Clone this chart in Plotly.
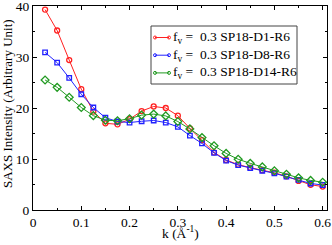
import plotly.graph_objects as go

k = [0.025, 0.05, 0.075, 0.1, 0.125, 0.15, 0.175, 0.2, 0.225, 0.25, 0.275, 0.3,
     0.325, 0.35, 0.375, 0.4, 0.425, 0.45, 0.475, 0.5, 0.525, 0.55, 0.575, 0.6]
d1 = [39.3, 35.2, 29.4, 23.7, 19.3, 17.0, 16.8, 17.8, 19.4, 20.3, 20.0, 18.5,
      16.0, 13.7, 11.3, 9.8, 8.9, 8.3, 7.8, 7.3, 6.6, 5.7, 4.95, 4.6]
d8 = [30.9, 28.9, 25.9, 22.7, 20.1, 18.1, 17.35, 17.15, 17.4, 17.55, 17.15, 16.3,
      14.6, 13.05, 11.2, 9.7, 8.8, 8.2, 7.7, 7.2, 6.55, 5.9, 5.2, 4.9]
d14 = [25.5, 24.05, 22.1, 20.1, 18.5, 17.6, 17.5, 17.9, 18.6, 18.8, 18.45, 17.35,
       15.9, 14.2, 12.6, 11.1, 9.95, 9.15, 8.45, 7.7, 7.0, 6.3, 5.8, 5.45]
names = ["f<sub>v</sub> =  0.3 SP18-D1-R6",
         "f<sub>v</sub> =  0.3 SP18-D8-R6",
         "f<sub>v</sub> =  0.3 SP18-D14-R6"]
colors = ["#ff2020", "#2020ff", "#209a20"]
symbols = ["circle-open", "square-open", "diamond-open"]
sizes = [5, 4.5, 6]
xticks = [0, 0.1, 0.2, 0.3, 0.4, 0.5, 0.6]
xticklabels = ["0", "0.1", "0.2", "0.3", "0.4", "0.5", "0.6"]
yticks = [0, 10, 20, 30, 40]
yticklabels = ["0", "10", "20", "30", "40"]

W, H = 332, 245
L, R, T, B = 33, 5, 6, 35
pw, ph = W - L - R, H - T - B


def px(x):
    return (x - L) / pw


def py(y):
    return (H - B - y) / ph


font = "Liberation Serif, Times New Roman, serif"

fig = go.Figure()
for y, n, c, s, sz in zip([d1, d8, d14], names, colors, symbols, sizes):
    fig.add_trace(go.Scatter(
        x=k, y=y, name=n, mode="lines+markers", showlegend=False,
        line=dict(color=c, width=1),
        marker=dict(symbol=s, size=sz, color=c, line=dict(color=c, width=1.3)),
    ))

# legend box with short line samples
shapes = [dict(type="rect", xref="paper", yref="paper",
               x0=px(151), x1=px(297), y0=py(84), y1=py(26),
               line=dict(color="#444444", width=1), fillcolor="white", layer="above")]
annotations = []
for i, (n, c) in enumerate(zip(names, colors)):
    yy = 37.5 + i * 17.7
    shapes.append(dict(type="line", xref="paper", yref="paper",
                       x0=px(155), x1=px(169), y0=py(yy), y1=py(yy),
                       line=dict(color=c, width=1), layer="above"))
    for xx in (155, 169):
        shapes.append(dict(type="circle", xref="paper", yref="paper",
                           x0=px(xx - 1.5), x1=px(xx + 1.5),
                           y0=py(yy + 1.5), y1=py(yy - 1.5),
                           line=dict(color=c, width=1), layer="above"))
    annotations.append(dict(text=n, xref="paper", yref="paper",
                            x=px(171), y=py(yy), xanchor="left", yanchor="middle",
                            showarrow=False,
                            font=dict(family=font, size=13.5, color="black")))

annotations.append(dict(text="k (Å<sup>-1</sup>)", xref="paper", yref="paper",
                        x=0.5, y=py(232), xanchor="center", yanchor="middle",
                        showarrow=False, font=dict(family=font, size=13.5, color="black")))
annotations.append(dict(text="SAXS Intensity (Arbitrary Unit)", xref="paper", yref="paper",
                        x=px(8), y=py(104), xanchor="center", yanchor="middle",
                        textangle=-90, showarrow=False,
                        font=dict(family=font, size=13, color="black")))

axis_common = dict(
    showline=True, linecolor="black", linewidth=1, mirror="allticks",
    ticks="inside", ticklen=4, tickcolor="black", showgrid=False, zeroline=False,
    automargin=False, ticklabeloverflow="allow",
    tickfont=dict(family=font, size=13.5, color="black"),
)
fig.update_xaxes(range=[0, 0.609], tickvals=xticks, ticktext=xticklabels,
                 minor=dict(tickvals=[0.05, 0.15, 0.25, 0.35, 0.45, 0.55],
                            ticks="inside", ticklen=2, tickcolor="black"),
                 **axis_common)
fig.update_yaxes(range=[0, 40], tickvals=yticks, ticktext=yticklabels,
                 minor=dict(tickvals=[5, 15, 25, 35], ticks="inside", ticklen=2,
                            tickcolor="black"),
                 **axis_common)
fig.update_layout(
    width=W, height=H,
    margin=dict(l=L, r=R, t=T, b=B, autoexpand=False),
    paper_bgcolor="white", plot_bgcolor="white",
    font=dict(family=font, size=12, color="black"),
    shapes=shapes, annotations=annotations,
    showlegend=False,
)

# remove the page's default body margin so the figure sits at the window's corner,
# and make sure edge tick labels stay visible
post = ("document.body.style.margin='0';"
        "document.querySelectorAll('g.xtick, g.ytick, g.xtick text, g.ytick text')"
        ".forEach(function(t){t.style.display='';t.style.opacity='1';});")
fig.write_html("out.html", post_script=post, config={"displayModeBar": False})
